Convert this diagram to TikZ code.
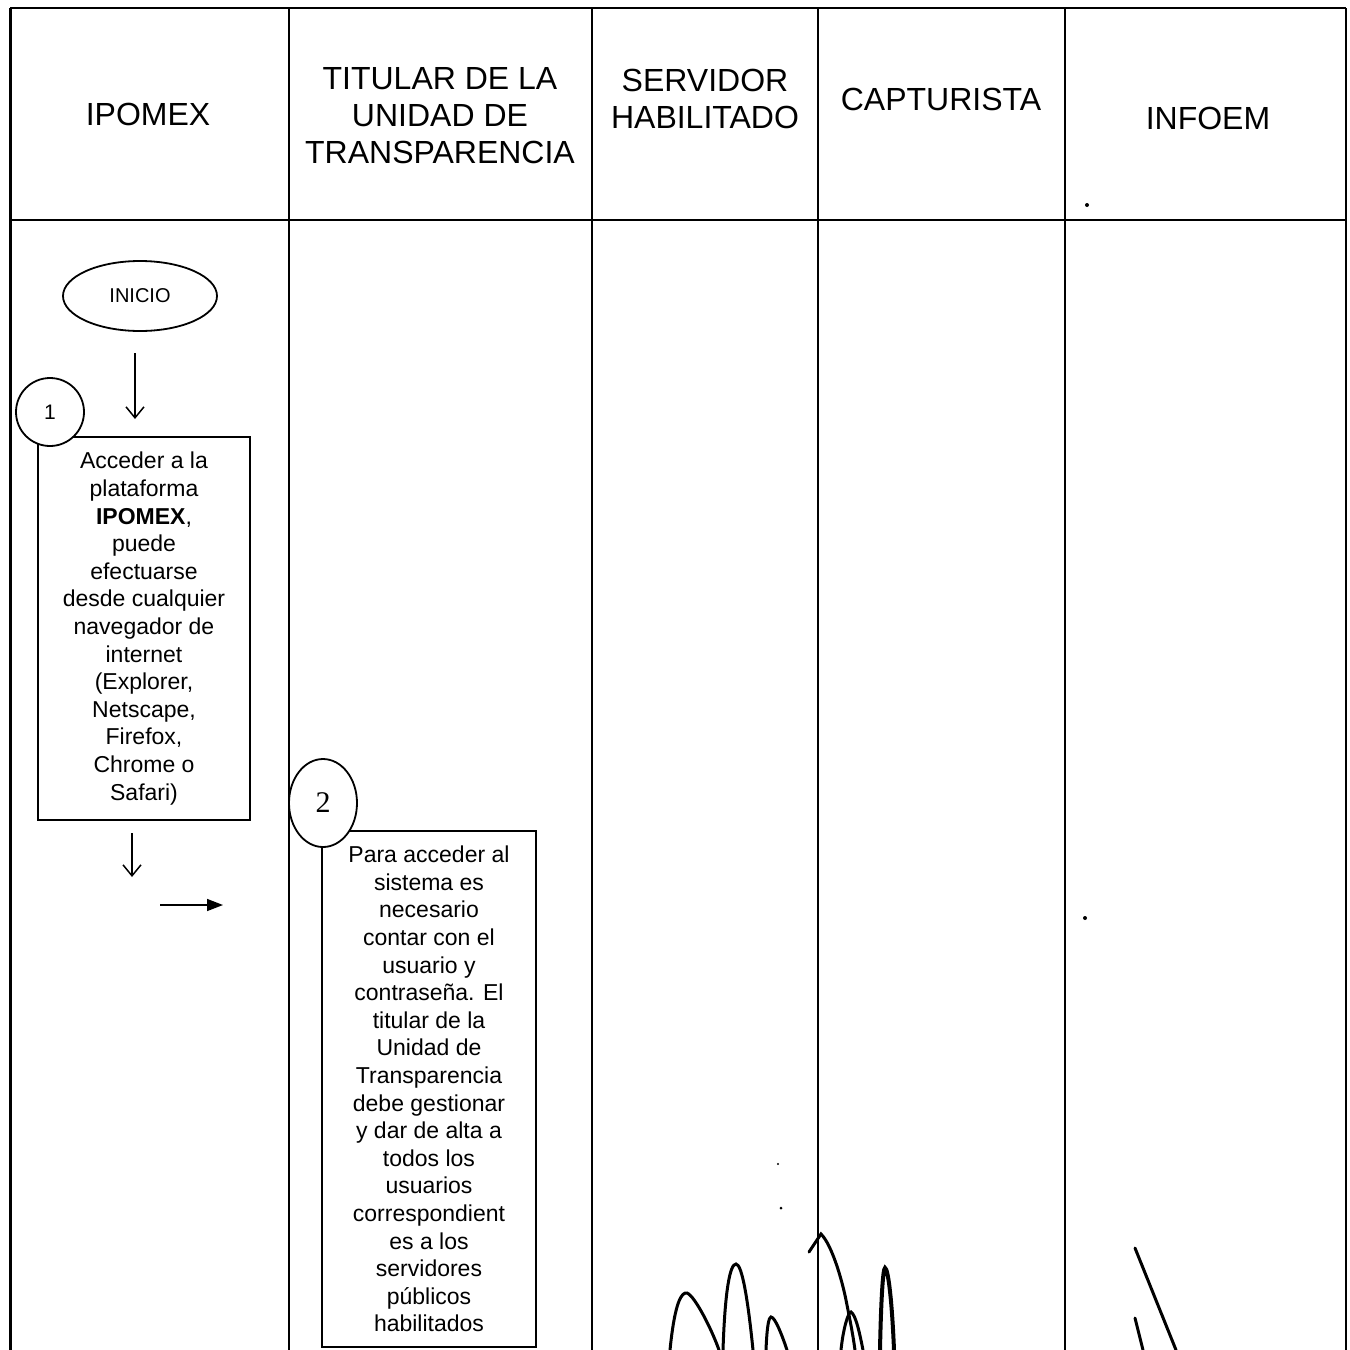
\documentclass[tikz,border=0pt]{standalone}
\usepackage{fontspec}
\setmainfont{Liberation Sans}
\newfontfamily\serifnum{Liberation Serif}
\usetikzlibrary{arrows.meta,shapes.geometric}
\tikzset{
  grid/.style={line width=1.6pt},
  hdr/.style={font=\fontsize{32}{37}\selectfont, align=center},
  stepbox/.style={draw, line width=1.8pt, fill=white, align=center, inner sep=0pt,
    font=\fontsize{23}{27.6}\selectfont},
  numcirc/.style={draw, line width=1.8pt, fill=white, inner sep=0pt},
  openarrow/.style={line width=1.5pt, -{Straight Barb[length=11pt,width=18pt,line width=1.5pt]}},
  fillarrow/.style={line width=1.5pt, -{Triangle[length=16pt,width=12pt]}},
  sign/.style={line width=3pt, line cap=round}
}
\begin{document}
\begin{tikzpicture}[x=1pt,y=-1pt]
\useasboundingbox (0,0) rectangle (1350,1350);
% frame and lanes
\draw[grid, line width=3pt] (10,8) -- (10,1350);
\draw[grid] (10,8) -- (1346,8);
\draw[grid] (1346,8) -- (1346,1350);
\draw[grid] (10,220) -- (1346,220);
\foreach \xx in {289,592,818,1065} \draw[grid] (\xx,8) -- (\xx,1350);
% headers
\node[hdr] (h1) at (148,114) {IPOMEX};
\node[hdr] (h2) at (440,116) {TITULAR DE LA\\UNIDAD DE\\TRANSPARENCIA};
\node[hdr] (h3) at (705,99) {SERVIDOR\\HABILITADO};
\node[hdr] (h4) at (941,99) {CAPTURISTA};
\node[hdr] (h5) at (1208,118) {INFOEM};
% start
\node[draw, ellipse, line width=1.8pt, minimum width=154pt, minimum height=70pt,
  font=\fontsize{20}{24}\selectfont] (inicio) at (140,296) {INICIO};
% step 1
\node[stepbox, minimum width=212pt, minimum height=383pt] (s1) at (144,628.5)
 {Acceder a la\\plataforma\\\textbf{IPOMEX},\\puede\\efectuarse\\desde cualquier\\navegador de\\internet\\(Explorer,\\Netscape,\\Firefox,\\Chrome o\\Safari)};
\node[numcirc, circle, minimum size=68pt, font=\fontsize{21}{24}\selectfont] (c1) at (50,412) {1};
% step 2
\node[stepbox, minimum width=214pt, minimum height=516pt] (s2) at (429,1089)
 {Para acceder al\\sistema es\\necesario\\contar con el\\usuario y\\contraseña. El\\titular de la\\Unidad de\\Transparencia\\debe gestionar\\y dar de alta a\\todos los\\usuarios\\correspondient\\es a los\\servidores\\públicos\\habilitados};
\node[numcirc, ellipse, minimum width=68pt, minimum height=88pt, font=\serifnum\fontsize{30}{32}\selectfont] (c2) at (323,803) {2};
% arrows
\coordinate (a1s) at (135,353);
\coordinate (a1e) at (135,419);
\draw[openarrow] (a1s) -- (a1e);
\coordinate (a2s) at (132,833);
\coordinate (a2e) at (132,877);
\draw[openarrow] (a2s) -- (a2e);
\coordinate (a3s) at (160,905);
\coordinate (a3e) at (223,905);
\draw[fillarrow] (a3s) -- (a3e);
% specks
\fill (1087,205) circle (2);
\fill (1085,918) circle (2);
\fill (778,1164) circle (1.2);
\fill (781,1208) circle (1.5);
% signatures
\draw[sign] (670,1350) .. controls (675,1300) and (682,1292) .. (687,1293) .. controls (695,1296) and (712,1330) .. (719,1350);
\draw[sign] (723,1350) .. controls (725,1290) and (730,1264) .. (736,1264) .. controls (742,1264) and (748,1300) .. (753,1350);
\draw[sign] (766,1350) .. controls (767,1325) and (769,1317) .. (771,1317) .. controls (775,1317) and (782,1335) .. (787,1350);
\draw[sign] (809,1252) -- (821,1234) .. controls (832,1245) and (842,1280) .. (846,1300) .. controls (850,1320) and (853,1335) .. (855,1350);
\draw[sign] (841,1350) .. controls (843,1330) and (848,1312) .. (851,1312) .. controls (856,1315) and (860,1335) .. (863,1350);
\draw[sign, line width=4pt] (880,1350) .. controls (881,1300) and (883,1268) .. (885,1268) .. controls (888,1268) and (892,1300) .. (894,1350);
\draw[sign] (1135,1248) -- (1176,1350);
\draw[sign] (1135,1318) -- (1143,1350);
\end{tikzpicture}
\end{document}
